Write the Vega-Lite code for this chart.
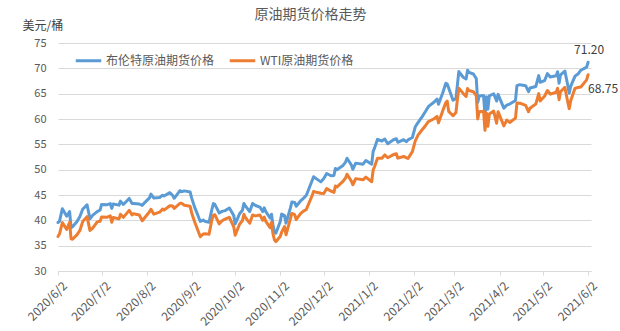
{
  "$schema": "https://vega.github.io/schema/vega-lite/v6.json",
  "width": 533,
  "height": 228,
  "autosize": "none",
  "padding": {"left": 58, "top": 43, "right": 29, "bottom": 60},
  "background": "white",
  "config": {"view": {"stroke": null}, "font": "Noto Sans CJK SC"},
  "title": {"text": "原油期货价格走势", "anchor": "middle", "frame": "group", "dx": -14, "offset": -3, "fontSize": 14, "fontWeight": "normal", "color": "#595959", "font": "Noto Sans CJK SC"},
  "data": {"values": [
    {"date":"2020-06-02","brent":39.57,"wti":36.81},
    {"date":"2020-06-03","brent":39.79,"wti":37.29},
    {"date":"2020-06-05","brent":42.30,"wti":39.55},
    {"date":"2020-06-08","brent":40.80,"wti":38.19},
    {"date":"2020-06-10","brent":41.73,"wti":39.60},
    {"date":"2020-06-11","brent":38.55,"wti":36.34},
    {"date":"2020-06-12","brent":38.73,"wti":36.26},
    {"date":"2020-06-15","brent":39.72,"wti":37.12},
    {"date":"2020-06-17","brent":40.71,"wti":37.96},
    {"date":"2020-06-19","brent":42.19,"wti":39.75},
    {"date":"2020-06-22","brent":43.08,"wti":40.73},
    {"date":"2020-06-24","brent":40.31,"wti":38.01},
    {"date":"2020-06-26","brent":41.02,"wti":38.49},
    {"date":"2020-06-29","brent":41.71,"wti":39.70},
    {"date":"2020-07-01","brent":42.03,"wti":39.82},
    {"date":"2020-07-02","brent":43.14,"wti":40.65},
    {"date":"2020-07-06","brent":43.10,"wti":40.63},
    {"date":"2020-07-08","brent":43.29,"wti":40.90},
    {"date":"2020-07-09","brent":42.35,"wti":39.62},
    {"date":"2020-07-10","brent":43.24,"wti":40.55},
    {"date":"2020-07-14","brent":43.00,"wti":40.29},
    {"date":"2020-07-15","brent":43.79,"wti":41.20},
    {"date":"2020-07-17","brent":43.14,"wti":40.59},
    {"date":"2020-07-21","brent":44.32,"wti":41.96},
    {"date":"2020-07-23","brent":43.31,"wti":41.07},
    {"date":"2020-07-24","brent":43.34,"wti":41.29},
    {"date":"2020-07-28","brent":43.22,"wti":41.04},
    {"date":"2020-07-30","brent":42.94,"wti":39.92},
    {"date":"2020-07-31","brent":43.30,"wti":40.27},
    {"date":"2020-08-04","brent":44.43,"wti":41.70},
    {"date":"2020-08-05","brent":45.17,"wti":42.19},
    {"date":"2020-08-07","brent":44.40,"wti":41.22},
    {"date":"2020-08-11","brent":44.50,"wti":41.61},
    {"date":"2020-08-13","brent":44.96,"wti":42.24},
    {"date":"2020-08-14","brent":44.80,"wti":42.01},
    {"date":"2020-08-18","brent":45.46,"wti":42.89},
    {"date":"2020-08-20","brent":44.90,"wti":42.82},
    {"date":"2020-08-21","brent":44.35,"wti":42.34},
    {"date":"2020-08-25","brent":45.86,"wti":43.35},
    {"date":"2020-08-26","brent":45.64,"wti":43.39},
    {"date":"2020-08-28","brent":45.81,"wti":42.97},
    {"date":"2020-09-01","brent":45.58,"wti":42.76},
    {"date":"2020-09-02","brent":44.43,"wti":41.51},
    {"date":"2020-09-04","brent":42.66,"wti":39.77},
    {"date":"2020-09-08","brent":39.78,"wti":36.76},
    {"date":"2020-09-10","brent":40.06,"wti":37.30},
    {"date":"2020-09-11","brent":39.83,"wti":37.33},
    {"date":"2020-09-14","brent":39.61,"wti":37.26},
    {"date":"2020-09-16","brent":42.22,"wti":40.16},
    {"date":"2020-09-17","brent":43.30,"wti":40.97},
    {"date":"2020-09-18","brent":43.15,"wti":41.11},
    {"date":"2020-09-21","brent":41.44,"wti":39.31},
    {"date":"2020-09-23","brent":41.77,"wti":39.93},
    {"date":"2020-09-25","brent":41.92,"wti":40.25},
    {"date":"2020-09-28","brent":42.43,"wti":40.60},
    {"date":"2020-10-01","brent":40.93,"wti":38.72},
    {"date":"2020-10-02","brent":39.27,"wti":37.05},
    {"date":"2020-10-05","brent":41.29,"wti":39.22},
    {"date":"2020-10-07","brent":41.99,"wti":39.95},
    {"date":"2020-10-08","brent":43.34,"wti":41.19},
    {"date":"2020-10-09","brent":42.85,"wti":40.60},
    {"date":"2020-10-12","brent":41.72,"wti":39.43},
    {"date":"2020-10-14","brent":43.32,"wti":41.04},
    {"date":"2020-10-16","brent":42.93,"wti":40.88},
    {"date":"2020-10-19","brent":42.62,"wti":41.06},
    {"date":"2020-10-21","brent":41.73,"wti":40.03},
    {"date":"2020-10-22","brent":42.46,"wti":40.64},
    {"date":"2020-10-23","brent":41.77,"wti":39.85},
    {"date":"2020-10-26","brent":40.46,"wti":38.56},
    {"date":"2020-10-27","brent":41.20,"wti":39.57},
    {"date":"2020-10-28","brent":39.12,"wti":37.39},
    {"date":"2020-10-29","brent":37.65,"wti":36.17},
    {"date":"2020-10-30","brent":37.46,"wti":35.79},
    {"date":"2020-11-02","brent":39.71,"wti":36.81},
    {"date":"2020-11-03","brent":41.23,"wti":37.66},
    {"date":"2020-11-05","brent":40.93,"wti":38.79},
    {"date":"2020-11-06","brent":39.45,"wti":37.14},
    {"date":"2020-11-09","brent":42.40,"wti":40.29},
    {"date":"2020-11-10","brent":43.61,"wti":41.36},
    {"date":"2020-11-12","brent":43.53,"wti":41.12},
    {"date":"2020-11-13","brent":42.78,"wti":40.13},
    {"date":"2020-11-16","brent":43.82,"wti":41.34},
    {"date":"2020-11-18","brent":44.34,"wti":41.82},
    {"date":"2020-11-20","brent":44.96,"wti":42.15},
    {"date":"2020-11-24","brent":47.86,"wti":44.91},
    {"date":"2020-11-25","brent":48.61,"wti":45.71},
    {"date":"2020-11-27","brent":48.18,"wti":45.53},
    {"date":"2020-11-30","brent":47.59,"wti":45.34},
    {"date":"2020-12-02","brent":48.25,"wti":45.28},
    {"date":"2020-12-04","brent":49.25,"wti":46.26},
    {"date":"2020-12-07","brent":48.79,"wti":45.76},
    {"date":"2020-12-09","brent":48.86,"wti":45.52},
    {"date":"2020-12-10","brent":50.25,"wti":46.78},
    {"date":"2020-12-11","brent":49.97,"wti":46.57},
    {"date":"2020-12-15","brent":50.76,"wti":47.62},
    {"date":"2020-12-17","brent":51.50,"wti":48.36},
    {"date":"2020-12-18","brent":52.26,"wti":49.10},
    {"date":"2020-12-21","brent":50.91,"wti":47.74},
    {"date":"2020-12-22","brent":50.08,"wti":47.02},
    {"date":"2020-12-24","brent":51.29,"wti":48.23},
    {"date":"2020-12-29","brent":51.09,"wti":48.00},
    {"date":"2020-12-31","brent":51.80,"wti":48.52},
    {"date":"2021-01-04","brent":51.09,"wti":47.62},
    {"date":"2021-01-05","brent":53.60,"wti":49.93},
    {"date":"2021-01-06","brent":54.30,"wti":50.63},
    {"date":"2021-01-08","brent":55.99,"wti":52.24},
    {"date":"2021-01-11","brent":55.66,"wti":52.25},
    {"date":"2021-01-13","brent":56.06,"wti":52.91},
    {"date":"2021-01-15","brent":55.10,"wti":52.36},
    {"date":"2021-01-19","brent":55.90,"wti":52.98},
    {"date":"2021-01-21","brent":56.10,"wti":53.13},
    {"date":"2021-01-22","brent":55.41,"wti":52.27},
    {"date":"2021-01-26","brent":55.91,"wti":52.61},
    {"date":"2021-01-28","brent":55.53,"wti":52.34},
    {"date":"2021-01-29","brent":55.88,"wti":52.20},
    {"date":"2021-02-01","brent":56.35,"wti":53.55},
    {"date":"2021-02-03","brent":58.46,"wti":55.69},
    {"date":"2021-02-05","brent":59.34,"wti":56.85},
    {"date":"2021-02-08","brent":60.56,"wti":57.97},
    {"date":"2021-02-10","brent":61.47,"wti":58.68},
    {"date":"2021-02-12","brent":62.43,"wti":59.47},
    {"date":"2021-02-16","brent":63.35,"wti":60.05},
    {"date":"2021-02-18","brent":63.93,"wti":60.52},
    {"date":"2021-02-19","brent":62.91,"wti":59.24},
    {"date":"2021-02-22","brent":65.24,"wti":61.70},
    {"date":"2021-02-24","brent":67.04,"wti":63.22},
    {"date":"2021-02-25","brent":66.88,"wti":63.53},
    {"date":"2021-02-26","brent":66.13,"wti":61.50},
    {"date":"2021-03-01","brent":63.69,"wti":60.64},
    {"date":"2021-03-03","brent":64.07,"wti":61.28},
    {"date":"2021-03-04","brent":66.74,"wti":63.83},
    {"date":"2021-03-05","brent":69.36,"wti":66.09},
    {"date":"2021-03-08","brent":68.24,"wti":65.05},
    {"date":"2021-03-10","brent":67.90,"wti":64.44},
    {"date":"2021-03-11","brent":69.63,"wti":66.02},
    {"date":"2021-03-12","brent":69.22,"wti":65.61},
    {"date":"2021-03-15","brent":68.88,"wti":65.39},
    {"date":"2021-03-17","brent":68.00,"wti":64.60},
    {"date":"2021-03-18","brent":63.28,"wti":60.00},
    {"date":"2021-03-19","brent":64.53,"wti":61.42},
    {"date":"2021-03-22","brent":64.62,"wti":61.55},
    {"date":"2021-03-23","brent":60.79,"wti":57.76},
    {"date":"2021-03-24","brent":64.41,"wti":61.18},
    {"date":"2021-03-25","brent":61.95,"wti":58.56},
    {"date":"2021-03-26","brent":64.57,"wti":60.97},
    {"date":"2021-03-29","brent":64.98,"wti":61.56},
    {"date":"2021-03-31","brent":63.54,"wti":59.16},
    {"date":"2021-04-01","brent":64.86,"wti":61.45},
    {"date":"2021-04-05","brent":62.15,"wti":58.65},
    {"date":"2021-04-07","brent":62.74,"wti":59.77},
    {"date":"2021-04-09","brent":62.95,"wti":59.32},
    {"date":"2021-04-13","brent":63.67,"wti":60.18},
    {"date":"2021-04-14","brent":66.58,"wti":63.15},
    {"date":"2021-04-16","brent":66.77,"wti":63.13},
    {"date":"2021-04-20","brent":66.57,"wti":62.67},
    {"date":"2021-04-22","brent":65.40,"wti":61.43},
    {"date":"2021-04-23","brent":66.11,"wti":62.14},
    {"date":"2021-04-27","brent":66.42,"wti":62.94},
    {"date":"2021-04-29","brent":68.56,"wti":65.01},
    {"date":"2021-04-30","brent":67.25,"wti":63.58},
    {"date":"2021-05-03","brent":67.56,"wti":64.49},
    {"date":"2021-05-05","brent":68.96,"wti":65.63},
    {"date":"2021-05-07","brent":68.28,"wti":64.90},
    {"date":"2021-05-11","brent":68.55,"wti":65.28},
    {"date":"2021-05-12","brent":69.32,"wti":66.08},
    {"date":"2021-05-13","brent":67.05,"wti":63.82},
    {"date":"2021-05-14","brent":68.71,"wti":65.37},
    {"date":"2021-05-17","brent":69.46,"wti":66.27},
    {"date":"2021-05-19","brent":66.66,"wti":63.36},
    {"date":"2021-05-20","brent":65.11,"wti":62.05},
    {"date":"2021-05-21","brent":66.44,"wti":63.58},
    {"date":"2021-05-24","brent":68.46,"wti":66.05},
    {"date":"2021-05-26","brent":68.87,"wti":66.21},
    {"date":"2021-05-28","brent":69.63,"wti":66.32},
    {"date":"2021-06-01","brent":70.25,"wti":67.72},
    {"date":"2021-06-02","brent":71.20,"wti":68.75}
  ]},
  "transform": [{"fold": ["brent", "wti"], "as": ["series", "price"]}],
  "layer": [
    {
      "mark": {"type": "line", "strokeWidth": 3, "strokeJoin": "round", "strokeCap": "round"},
      "encoding": {
        "x": {"field": "date", "type": "temporal",
          "scale": {"type": "utc", "domain": [{"year": 2020, "month": 6, "date": 2, "utc": true}, {"year": 2021, "month": 6, "date": 4, "utc": true}]},
          "axis": {"title": null, "labelExpr": "utcFormat(datum.value, '%Y/%-m/%-d')", "labelAngle": -45, "labelAlign": "right", "labelBaseline": "top", "labelFontSize": 12, "labelColor": "#595959", "labelFont": "Noto Sans CJK SC", "grid": false, "domainColor": "#d9d9d9", "tickColor": "#d9d9d9", "tickSize": 4, "labelPadding": 5, "labelOffset": 3, "labelOverlap": false, "labelFlush": false, "labelBound": false, "tickCount": 20,
            "values": [
              {"year": 2020, "month": 6, "date": 2, "utc": true},
              {"year": 2020, "month": 7, "date": 2, "utc": true},
              {"year": 2020, "month": 8, "date": 2, "utc": true},
              {"year": 2020, "month": 9, "date": 2, "utc": true},
              {"year": 2020, "month": 10, "date": 2, "utc": true},
              {"year": 2020, "month": 11, "date": 2, "utc": true},
              {"year": 2020, "month": 12, "date": 2, "utc": true},
              {"year": 2021, "month": 1, "date": 2, "utc": true},
              {"year": 2021, "month": 2, "date": 2, "utc": true},
              {"year": 2021, "month": 3, "date": 2, "utc": true},
              {"year": 2021, "month": 4, "date": 2, "utc": true},
              {"year": 2021, "month": 5, "date": 2, "utc": true},
              {"year": 2021, "month": 6, "date": 2, "utc": true}
            ]}},
        "y": {"field": "price", "type": "quantitative",
          "scale": {"domain": [30, 75], "nice": false, "zero": false},
          "axis": {"title": "美元/桶", "titleAngle": 0, "titleAlign": "left", "titleBaseline": "middle", "titleX": -36, "titleY": -18, "titleFontSize": 12, "titleFontWeight": "normal", "titleColor": "#404040", "titleFont": "Noto Sans CJK SC", "tickCount": 12,
            "values": [30, 35, 40, 45, 50, 55, 60, 65, 70, 75], "labelFontSize": 11, "labelColor": "#595959", "labelPadding": 12, "ticks": false, "domain": false, "gridColor": "#d9d9d9", "labelOverlap": false, "labelFlush": false}},
        "color": {"field": "series", "type": "nominal",
          "scale": {"domain": ["brent", "wti"], "range": ["#5B9BD5", "#ED7D31"]},
          "legend": {"title": null, "orient": "none", "legendX": 16, "legendY": 3, "direction": "horizontal", "symbolType": "stroke", "symbolSize": 650, "symbolStrokeWidth": 3, "labelFontSize": 12, "labelColor": "#595959", "labelFont": "Noto Sans CJK SC", "columnPadding": 8, "labelOffset": 3,
            "labelExpr": "datum.label == 'brent' ? '布伦特原油期货价格' : 'WTI原油期货价格'"}}
      }
    },
    {
      "transform": [{"filter": "datum.series == 'brent' && time(datum.date) == utc(2021, 5, 2)"}],
      "mark": {"type": "text", "align": "center", "dx": 1, "dy": -12, "fontSize": 12, "color": "#404040", "font": "Noto Sans CJK SC"},
      "encoding": {
        "x": {"field": "date", "type": "temporal"},
        "y": {"field": "price", "type": "quantitative"},
        "text": {"field": "price", "type": "quantitative", "format": ".2f"}
      }
    },
    {
      "transform": [{"filter": "datum.series == 'wti' && time(datum.date) == utc(2021, 5, 2)"}],
      "mark": {"type": "text", "align": "left", "dx": 0, "dy": 14, "fontSize": 12, "color": "#404040", "font": "Noto Sans CJK SC"},
      "encoding": {
        "x": {"field": "date", "type": "temporal"},
        "y": {"field": "price", "type": "quantitative"},
        "text": {"field": "price", "type": "quantitative", "format": ".2f"}
      }
    }
  ]
}
